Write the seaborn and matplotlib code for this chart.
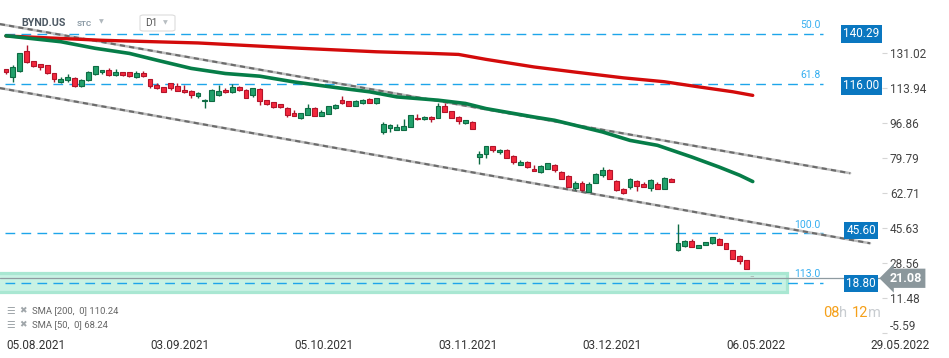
import matplotlib
matplotlib.use("Agg")
import matplotlib.pyplot as plt
import matplotlib.patches as mpatches
import numpy as np
import pandas as pd
import seaborn as sns

# -----------------------
# Data
# -----------------------
opens = [122.9, 119.0, 122.1, 131.9, 126.8, 125.4, 124.9, 121.0, 117.0, 117.5,
         118.5, 114.6, 117.5, 120.5, 121.4, 122.4, 120.0, 121.4, 121.4, 119.0,
         121.0, 118.0, 115.1, 114.1, 116.1, 114.6, 113.1, 112.6, 109.7, 107.3,
         107.7, 110.2, 113.1, 111.7, 114.4, 113.1, 110.3, 113.3, 107.9, 106.8,
         105.9, 104.3, 101.5, 99.2, 100.9, 104.3, 100.4, 101.4, 104.3, 107.9,
         107.3, 105.1, 106.3, 108.4, 106.3, 92.4, 94.4, 93.6, 93.6, 94.8,
         99.4, 98.5, 99.9, 99.4, 105.0, 102.5, 99.9, 96.8, 97.5, 80.2,
         81.8, 85.4, 82.8, 83.4, 80.9, 76.5, 77.9, 74.5, 73.0, 74.5,
         76.5, 73.0, 71.1, 65.2, 67.6, 63.2, 67.6, 71.6, 74.0, 68.6,
         64.7, 65.7, 68.6, 67.2, 65.2, 67.2, 64.7, 69.6, 34.9, 36.8,
         39.3, 35.9, 37.3, 38.3, 40.3, 38.3, 34.9, 32.0, 30.0]
highs = [123.2, 125.0, 131.0, 134.8, 127.0, 125.6, 125.1, 121.2, 119.0, 120.5,
         119.0, 118.3, 122.1, 124.6, 122.6, 123.4, 122.9, 121.6, 121.7, 121.9,
         121.9, 118.3, 116.1, 114.3, 116.5, 116.1, 115.2, 113.1, 111.7, 108.5,
         113.3, 115.2, 113.6, 115.7, 114.8, 113.4, 113.9, 113.6, 108.1, 107.0,
         106.2, 104.6, 103.0, 101.8, 105.9, 104.6, 103.3, 105.2, 105.9, 109.9,
         107.5, 107.9, 108.7, 109.2, 109.2, 97.3, 96.3, 96.2, 98.9, 100.8,
         101.4, 100.2, 100.1, 106.3, 106.3, 102.7, 100.1, 98.4, 97.7, 83.0,
         85.6, 85.6, 84.3, 84.3, 81.1, 78.9, 78.1, 76.5, 76.3, 77.4,
         76.7, 73.2, 71.6, 68.3, 68.4, 67.9, 72.3, 75.1, 74.2, 68.8,
         64.9, 70.2, 68.8, 68.1, 69.3, 67.9, 70.3, 69.8, 47.3, 39.5,
         40.3, 37.5, 39.0, 41.4, 40.5, 38.5, 35.1, 32.2, 30.2]
lows = [120.5, 116.8, 121.8, 126.0, 124.3, 122.4, 120.8, 116.8, 116.5, 117.0,
        114.4, 114.3, 117.3, 120.3, 120.5, 119.8, 119.8, 119.5, 119.1, 118.8,
        119.3, 113.6, 113.4, 111.9, 113.1, 112.4, 111.2, 109.2, 109.2, 104.3,
        107.5, 110.0, 111.4, 111.4, 112.5, 109.0, 109.5, 105.4, 105.5, 104.1,
        104.1, 99.7, 100.2, 98.6, 100.7, 100.2, 100.2, 101.2, 103.6, 105.8,
        104.9, 104.9, 105.8, 106.3, 106.1, 91.3, 92.4, 93.3, 93.3, 94.6,
        98.2, 98.2, 97.3, 99.2, 101.9, 99.2, 96.5, 96.5, 93.8, 76.9,
        79.9, 82.6, 81.8, 79.7, 76.9, 76.2, 74.6, 73.3, 72.3, 74.3,
        72.8, 69.4, 65.5, 64.2, 63.5, 63.0, 67.4, 70.6, 69.4, 63.5,
        62.3, 64.5, 63.5, 65.5, 63.5, 64.5, 64.5, 67.9, 34.5, 36.2,
        36.1, 35.7, 37.1, 37.6, 37.1, 35.2, 30.3, 28.0, 25.4]
closes = [121.4, 123.9, 130.7, 126.3, 124.5, 124.2, 121.0, 118.3, 118.2, 119.0,
          114.6, 117.5, 121.4, 124.4, 122.4, 120.0, 121.4, 120.0, 119.5, 121.0,
          119.5, 114.6, 113.6, 112.1, 113.6, 112.6, 112.1, 110.2, 111.2, 108.2,
          113.1, 112.6, 111.7, 114.5, 112.8, 109.2, 113.6, 107.4, 105.8, 104.6,
          104.8, 100.9, 100.4, 101.5, 104.3, 100.4, 102.0, 105.0, 105.5, 106.3,
          105.1, 107.4, 107.9, 106.6, 109.0, 96.5, 96.0, 94.7, 95.5, 100.6,
          98.5, 99.9, 98.9, 105.0, 102.2, 99.4, 97.8, 98.1, 94.0, 81.8,
          85.4, 83.4, 83.8, 79.9, 77.9, 77.6, 75.1, 73.5, 75.6, 77.1,
          74.0, 69.6, 65.7, 67.6, 64.0, 67.2, 71.7, 74.0, 69.6, 64.2,
          62.6, 69.6, 66.2, 65.7, 69.1, 64.7, 70.1, 68.1, 38.3, 39.3,
          36.4, 37.3, 38.8, 41.2, 37.3, 35.4, 30.5, 29.5, 25.6]

sma200_idx = [0, 14, 28, 43, 54, 62, 66, 70, 77, 83, 90, 96, 101, 106, 108.9]
sma200_val = [139.2, 137.1, 135.8, 133.2, 131.5, 130.7, 130.2, 127.8, 124.1,
              121.6, 118.8, 116.9, 114.4, 112.0, 110.24]
sma50_idx = [0, 8, 13, 18, 22, 27, 32, 37, 42, 48, 53, 57, 63, 67, 70, 77, 80,
             87, 91, 95, 100, 104, 107, 108.9]
sma50_val = [139.3, 136.4, 133.2, 130.7, 127.4, 123.4, 120.9, 119.6, 116.8,
             114.1, 112.0, 109.5, 107.9, 106.3, 103.8, 99.7, 98.1, 92.4, 88.3,
             85.9, 80.2, 75.3, 71.3, 68.24]

date_ticks = [0, 21, 42, 63, 84, 105, 126]
date_labels = ["05.08.2021", "03.09.2021", "05.10.2021", "03.11.2021",
               "03.12.2021", "06.05.2022", "29.05.2022"]
price_ticks = [131.02, 113.94, 96.86, 79.79, 62.71, 45.63, 28.56, 11.48, -5.59]

# fib retracement: where the dashed lines sit, and the tags shown on the axis
fib_lines = [140.29, 116.00, 43.00, 18.80]
fib_tags = [140.29, 116.00, 45.60, 18.80]
fib_tag_pos = [140.29, 114.9, 44.4, 18.5]
fib_names = ["50.0", "61.8", "100.0", "113.0"]

upper_x = [-0.9, 123.1]
upper_y = [145.0, 72.3]
lower_x = [-0.9, 126.0]
lower_y = [113.8, 38.15]

zone_low, zone_high, zone_end = 14.5, 23.75, 113.9
last_price = 21.08

# -----------------------
# Style
# -----------------------
sns.set_theme(style="white")
plt.rcParams["font.family"] = ["Roboto", "DejaVu Sans"]

W, H = 949, 358
fig = plt.figure(figsize=(W / 100, H / 100), dpi=100)
ax = fig.add_axes([0, 25 / H, 1, 333 / H])
ax.set_xlim(-0.875, 137.52)
ax.set_ylim(-5.6, 156.74)

green_fill, green_edge = "#22a06b", "#0e6b43"
red_fill, red_edge = "#f2283c", "#b3142a"
fib_blue = "#1ea5ea"

# support zone
ax.add_patch(mpatches.Rectangle((-1.5, zone_low), zone_end + 1.5, zone_high - zone_low,
                                facecolor="#c8f2e4", edgecolor="#a9e7d2", lw=2.3, zorder=1))
ax.plot([-0.9, 127.5], [last_price, last_price], color="#8f9ba1", lw=0.9, zorder=2,
        clip_on=False)

# fib levels
for lvl, tag, tpos, name in zip(fib_lines, fib_tags, fib_tag_pos, fib_names):
    ax.plot([-0.2, 119.2], [lvl, lvl], color=fib_blue, lw=1.0, dashes=(7, 4.5), zorder=2)
    ax.text(118.8, lvl + 1.8, name, color="#35aef0", fontsize=7.5, ha="right", va="bottom")
    ax.text(124.7, tpos, f"{tag:.2f}", color="white", fontsize=8.5, ha="center", va="center",
            bbox=dict(boxstyle="square,pad=0.2", fc="#0a77c0", ec="none"), zorder=6,
            clip_on=False)

# channel lines
for xs, ys in [(upper_x, upper_y), (lower_x, lower_y)]:
    ax.plot(xs, ys, color="#bdbdbd", lw=1.8, zorder=3, clip_on=False)
    ax.plot(xs, ys, color="#6b6b6b", lw=1.5, dashes=(2.5, 2), zorder=3, clip_on=False)

# candles
df = pd.DataFrame({"o": opens, "h": highs, "l": lows, "c": closes})
df["i"] = np.arange(len(df))
up = df["c"] >= df["o"]
edge = np.where(up, green_edge, red_edge)
fill = np.where(up, green_fill, red_fill)
ax.vlines(df["i"], df["l"], df["h"], colors=edge, lw=1.0, zorder=4)
ax.bar(df["i"], (df["c"] - df["o"]).abs().clip(lower=0.5), bottom=df[["o", "c"]].min(axis=1),
       width=0.72, color=fill, edgecolor=edge, linewidth=0.8, zorder=5)

# moving averages
sns.lineplot(x=sma200_idx, y=sma200_val, ax=ax, color="#d30b0b", lw=2.4, zorder=5)
sns.lineplot(x=sma50_idx, y=sma50_val, ax=ax, color="#067d48", lw=2.6, zorder=5)

# last price tag
ax.text(128.9, last_price, f"{last_price:.2f}", color="white", fontsize=9, weight="bold",
        ha="left", va="center", zorder=7, clip_on=False,
        bbox=dict(boxstyle="larrow,pad=0.25", fc="#8b979c", ec="none"))

# axes
for s in ax.spines.values():
    s.set_visible(False)
ax.spines["right"].set_position(("axes", 882 / W))
ax.yaxis.tick_right()
ax.set_yticks(price_ticks)
ax.set_yticklabels([f"{v:.2f}" for v in price_ticks])
ax.tick_params(axis="y", length=3.6, width=0.8, color="#d5d5d5", pad=2,
               labelsize=8.5, labelcolor="#444444")
ax.set_xticks(date_ticks)
ax.set_xticklabels(date_labels)
ax.tick_params(axis="x", length=2.5, width=0.8, color="#d5d5d5", pad=2,
               labelsize=8.5, labelcolor="#333333")
for lab in ax.get_xticklabels():
    lab.set_ha("left")
ax.get_yticklabels()[-1].set_va("bottom")
ax.grid(False)


def px(x, y):
    return x / W, 1 - y / H


# header
fig.text(*px(21, 23), "BYND.US", fontsize=7.7, weight="bold", color="#4d5964", va="center")
fig.text(*px(77, 24), "STC", fontsize=5.8, weight="bold", color="#8c9ba6", va="center")
fig.text(*px(99, 22), "\u25BC", fontsize=4.5, color="#b0b8bd", va="center")
fig.patches.append(mpatches.FancyBboxPatch(px(140, 31), 35 / W, 16 / H, transform=fig.transFigure,
                                           boxstyle="round,pad=0,rounding_size=0.004",
                                           fc="white", ec="#dcdcdc", lw=0.8))
fig.text(*px(145, 23), "D1", fontsize=7.3, color="#555555", va="center")
fig.text(*px(163, 23), "\u25BC", fontsize=4.5, color="#b8bec2", va="center")

# legend of indicators
for yy, txt in [(311, "SMA [200,  0] 110.24"), (325, "SMA [50,  0] 68.24")]:
    fig.text(*px(6, yy), "\u2630", fontsize=7, color="#a0a6aa", va="center")
    fig.text(*px(19, yy), "\u2716", fontsize=6.5, color="#a0a6aa", va="center")
    fig.text(*px(32, yy), txt, fontsize=6.8, color="#666666", va="center")

# countdown
fig.text(*px(823, 313), "08", fontsize=10.5, color="#f5a01a", va="center")
fig.text(*px(839, 313), "h", fontsize=10.5, color="#c8ccd0", va="center")
fig.text(*px(852, 313), "12", fontsize=10.5, color="#f5a01a", va="center")
fig.text(*px(868, 313), "m", fontsize=10.5, color="#c8ccd0", va="center")
fig.text(*px(752, 278), "=", fontsize=6, color="#9a9a9a", ha="center", va="center")

fig.savefig("out.png", dpi=100)
